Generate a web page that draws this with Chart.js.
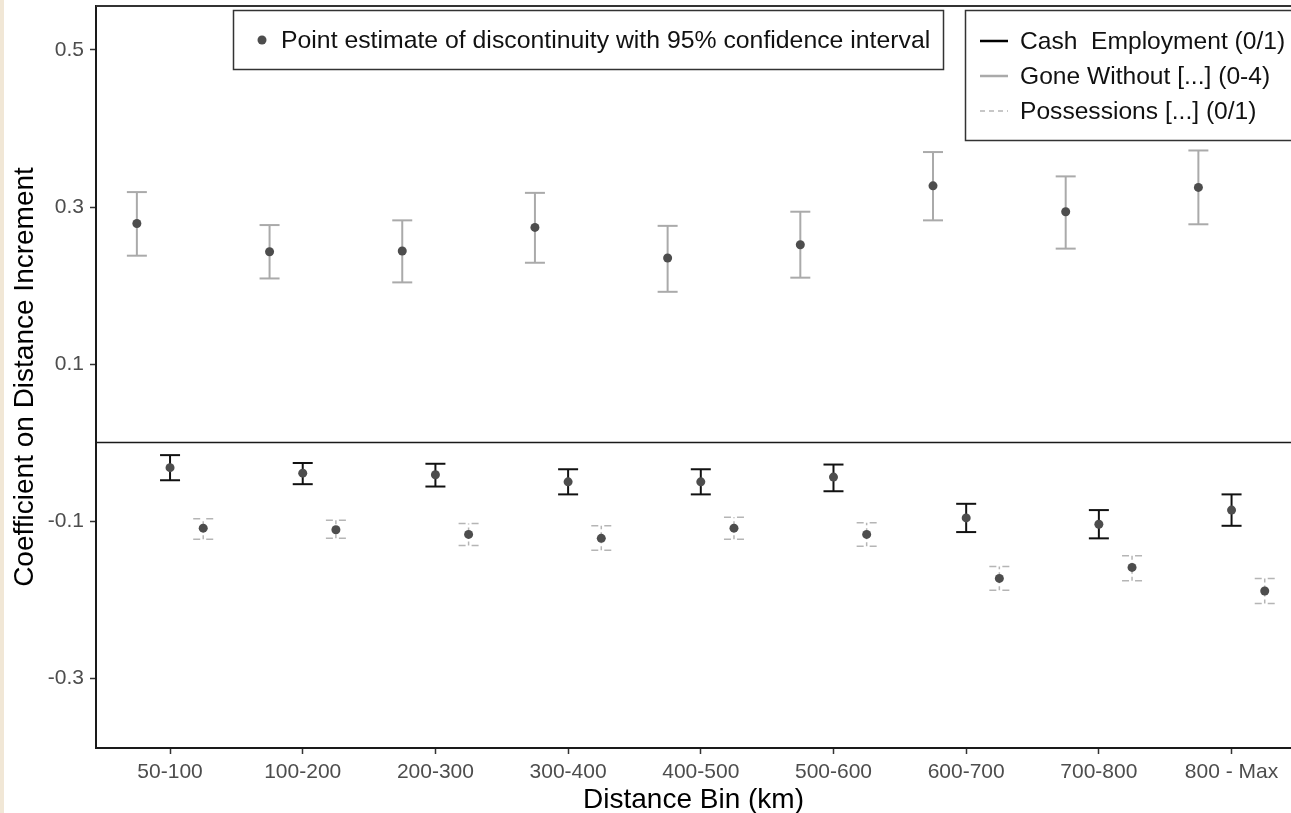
<!DOCTYPE html>
<html>
<head>
<meta charset="utf-8">
<script src="https://cdn.jsdelivr.net/npm/chart.js@4.4.1/dist/chart.umd.min.js"></script>
<style>
  html, body { margin: 0; padding: 0; background: #fff; }
  #wrap { width: 1291px; height: 813px; }
</style>
</head>
<body>
<div id="wrap"><canvas id="discChart"></canvas></div>
<script>
const categories = ['50-100', '100-200', '200-300', '300-400', '400-500', '500-600', '600-700', '700-800', '800 - Max'];
const yTickValues = [-0.3, -0.1, 0.1, 0.3, 0.5];

// Cash Employment (0/1)
const cashEst  = [-0.032, -0.039, -0.041, -0.050, -0.050, -0.044, -0.096, -0.104, -0.086];
const cashLow  = [-0.048, -0.053, -0.056, -0.066, -0.066, -0.062, -0.114, -0.122, -0.106];
const cashHigh = [-0.016, -0.026, -0.027, -0.034, -0.034, -0.028, -0.078, -0.086, -0.066];

// Gone Without [...] (0-4)
const goneEst  = [0.279, 0.243, 0.244, 0.274, 0.235, 0.252, 0.327, 0.294, 0.325];
const goneLow  = [0.238, 0.209, 0.204, 0.229, 0.192, 0.210, 0.283, 0.247, 0.278];
const goneHigh = [0.319, 0.277, 0.283, 0.318, 0.276, 0.294, 0.370, 0.339, 0.372];

// Possessions [...] (0/1)
const possEst  = [-0.109, -0.111, -0.117, -0.122, -0.109, -0.117, -0.173, -0.159, -0.189];
const possLow  = [-0.123, -0.122, -0.131, -0.137, -0.123, -0.132, -0.188, -0.176, -0.205];
const possHigh = [-0.097, -0.099, -0.103, -0.106, -0.095, -0.102, -0.158, -0.144, -0.173];

const FONT = "'Liberation Sans', Arial, sans-serif";

function points(est, low, high, shift) {
    return est.map((v, i) => ({ x: i + shift, y: v, lo: low[i], hi: high[i] }));
}

// whiskers drawn under the dots
const errorBars = {
    id: 'errorBars',
    beforeDatasetsDraw(chart) {
        const ctx = chart.ctx;
        const yScale = chart.scales.y;
        chart.data.datasets.forEach((ds, di) => {
            const meta = chart.getDatasetMeta(di);
            ctx.save();
            ctx.strokeStyle = ds.barColor;
            ctx.lineWidth = ds.barWidth;
            meta.data.forEach((pt, i) => {
                const lo = yScale.getPixelForValue(ds.data[i].lo);
                const hi = yScale.getPixelForValue(ds.data[i].hi);
                ctx.setLineDash(ds.stemDash || []);
                ctx.beginPath();
                ctx.moveTo(pt.x, lo);
                ctx.lineTo(pt.x, hi);
                ctx.stroke();
                ctx.setLineDash(ds.capDash || []);
                [lo, hi].forEach(py => {
                    ctx.beginPath();
                    ctx.moveTo(pt.x - 10, py);
                    ctx.lineTo(pt.x + 10, py);
                    ctx.stroke();
                });
            });
            ctx.restore();
        });
    }
};

// strip, top border, zero line and the two legend boxes
const frame = {
    id: 'frame',
    beforeDraw(chart) {
        const ctx = chart.ctx;
        ctx.save();
        ctx.fillStyle = '#fff';
        ctx.fillRect(0, 0, chart.width, chart.height);
        ctx.fillStyle = '#f1e7d6';
        ctx.fillRect(0, 0, 4, chart.height);
        ctx.restore();
    },
    beforeDatasetsDraw(chart) {
        const ctx = chart.ctx;
        const area = chart.chartArea;
        const y0 = chart.scales.y.getPixelForValue(0);
        ctx.save();
        ctx.strokeStyle = '#1a1a1a';
        ctx.lineWidth = 1.5;
        ctx.beginPath();
        ctx.moveTo(area.left, y0);
        ctx.lineTo(area.right, y0);
        ctx.stroke();
        ctx.strokeStyle = '#333';
        ctx.lineWidth = 2;
        ctx.beginPath();
        ctx.moveTo(area.left, area.top);
        ctx.lineTo(area.right, area.top);
        ctx.stroke();
        ctx.restore();
    },
    afterDraw(chart) {
        const ctx = chart.ctx;
        ctx.save();
        ctx.strokeStyle = '#333';
        ctx.lineWidth = 1.5;
        ctx.strokeRect(233.5, 10.5, 710, 59);
        ctx.strokeRect(965.5, 10.5, 340, 130);

        ctx.font = '24.8px ' + FONT;
        ctx.textBaseline = 'middle';
        ctx.fillStyle = '#4d4d4d';
        ctx.beginPath();
        ctx.arc(262, 40, 4.5, 0, Math.PI * 2);
        ctx.fill();
        ctx.fillStyle = '#111';
        ctx.fillText('Point estimate of discontinuity with 95% confidence interval', 281, 41);

        ctx.font = '24.6px ' + FONT;
        const rows = [
            { label: 'Cash  Employment (0/1)', color: '#000', width: 2.5, dash: [] },
            { label: 'Gone Without [...] (0-4)', color: '#aaa', width: 2.5, dash: [] },
            { label: 'Possessions [...] (0/1)', color: '#b5b5b5', width: 1.5, dash: [5, 4] }
        ];
        rows.forEach((r, i) => {
            const ry = 41 + i * 35;
            ctx.strokeStyle = r.color;
            ctx.lineWidth = r.width;
            ctx.setLineDash(r.dash);
            ctx.beginPath();
            ctx.moveTo(980, ry);
            ctx.lineTo(1008, ry);
            ctx.stroke();
            ctx.setLineDash([]);
            ctx.fillStyle = '#111';
            ctx.fillText(r.label, 1020, ry + 1);
        });
        ctx.restore();
    }
};

const ctx = document.getElementById('discChart').getContext('2d');

const discChart = new Chart(ctx, {
    type: 'scatter',
    data: {
        datasets: [
            {
                label: 'Gone Without [...] (0-4)',
                data: points(goneEst, goneLow, goneHigh, -0.25),
                barColor: '#aaa', barWidth: 2
            },
            {
                label: 'Cash  Employment (0/1)',
                data: points(cashEst, cashLow, cashHigh, 0),
                barColor: '#111', barWidth: 2
            },
            {
                label: 'Possessions [...] (0/1)',
                data: points(possEst, possLow, possHigh, 0.25),
                barColor: '#b5b5b5', barWidth: 1.5,
                stemDash: [4, 3], capDash: [7, 6]
            }
        ]
    },
    options: {
        responsive: true,
        maintainAspectRatio: false,
        animation: false,
        layout: { autoPadding: false, padding: { top: 6, right: 0, left: 0, bottom: 0 } },
        elements: {
            point: { radius: 4.5, backgroundColor: '#4d4d4d', borderWidth: 0, hoverRadius: 4.5 }
        },
        plugins: {
            legend: { display: false },
            tooltip: { enabled: false }
        },
        scales: {
            x: {
                type: 'linear',
                min: -0.558,
                max: 8.448,
                afterBuildTicks: s => { s.ticks = categories.map((c, i) => ({ value: i })); },
                afterFit: s => { s.height = 65; s.paddingLeft = 0; s.paddingRight = 0; },
                grid: { drawOnChartArea: false, drawTicks: true, tickLength: 6, tickColor: '#333', tickWidth: 1.5 },
                border: { display: true, color: '#1a1a1a', width: 2 },
                ticks: {
                    autoSkip: false,
                    maxRotation: 0,
                    padding: 6,
                    color: '#4d4d4d',
                    font: { family: FONT, size: 21 },
                    callback: (v, i) => categories[i]
                },
                title: {
                    display: true,
                    text: 'Distance Bin (km)',
                    color: '#000',
                    font: { family: FONT, size: 28, lineHeight: 1 },
                    padding: { top: 0, bottom: -1 }
                }
            },
            y: {
                min: -0.389,
                max: 0.556,
                afterBuildTicks: s => { s.ticks = yTickValues.map(v => ({ value: v })); },
                afterFit: s => { s.width = 96; s.paddingTop = 0; s.paddingBottom = 0; },
                grid: { drawOnChartArea: false, drawTicks: true, tickLength: 6, tickColor: '#333', tickWidth: 1.5 },
                border: { display: true, color: '#1a1a1a', width: 2 },
                ticks: {
                    padding: 6,
                    color: '#4d4d4d',
                    font: { family: FONT, size: 21 },
                    callback: v => v.toFixed(1)
                },
                title: {
                    display: true,
                    text: 'Coefficient on Distance Increment',
                    color: '#000',
                    font: { family: FONT, size: 28, lineHeight: 1 },
                    padding: { top: 11, bottom: 0 }
                }
            }
        }
    },
    plugins: [frame, errorBars]
});
</script>
</body>
</html>
